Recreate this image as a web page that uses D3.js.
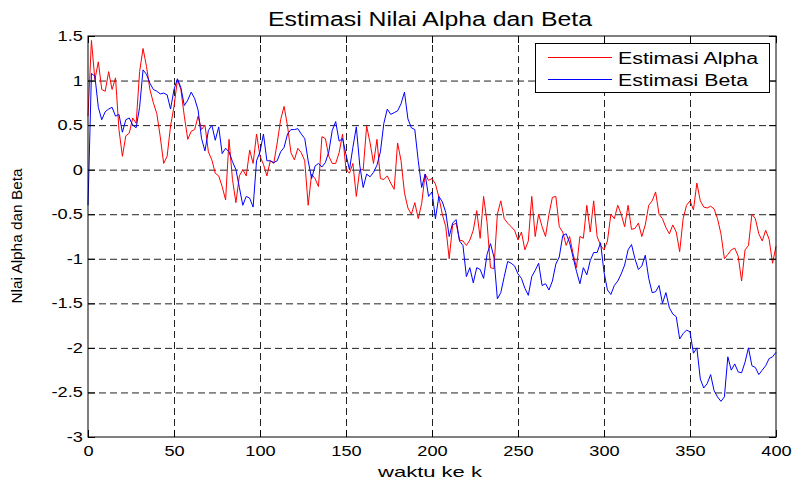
<!DOCTYPE html>
<html>
<head>
<meta charset="utf-8">
<script src="https://cdn.jsdelivr.net/npm/d3@7"></script>
<style>
body { margin: 0; background: #fff; }
text { font-family: "Liberation Sans", Arial, Helvetica, sans-serif; }
</style>
</head>
<body>
<div id="chart"></div>
<script>
// estimasi alpha & beta, one value every 2 steps of k (0..400)
var alpha = [
    0.6, 1.45, 1.01, 1.21, 0.9, 0.88, 1.1, 0.9, 1.03, 0.45,
    0.15, 0.38, 0.41, 0.58, 0.52, 1.1, 1.36, 1.16, 0.9, 0.75,
    0.63, 0.37, 0.07, 0.15, 0.49, 0.71, 1.01, 0.9, 0.6, 0.34,
    0.43, 0.45, 0.6, 0.45, 0.5, 0.2, 0.11, -0.04, -0.07, -0.19,
    -0.34, 0.34, -0.11, -0.37, -0.07, 0, -0.07, 0.22, 0.07, 0.4,
    0.15, 0.06, -0.07, 0.1, 0.07, 0.3, 0.56, 0.71, 0.49, 0.19,
    0.11, 0.24, 0.19, 0.1, -0.4, -0.05, -0.1, -0.19, 0.37, 0.35,
    0.15, 0.07, 0.07, 0.19, 0.4, 0.0, -0.04, 0.07, -0.3, 0.0,
    0.0, 0.49, 0.3, 0.07, 0.34, -0.1, -0.11, -0.07, -0.15, -0.22,
    0.3, 0.1, -0.26, -0.43, -0.5, -0.37, -0.55, -0.38, -0.05, -0.12,
    -0.1, -0.16, -0.31, -0.5, -0.64, -1.0, -0.62, -0.6, -0.79, -0.8,
    -0.85, -0.79, -0.68, -0.46, -0.77, -0.3, -0.59, -1.1, -1.11, -0.5,
    -0.35, -0.55, -0.6, -0.64, -0.68, -0.79, -0.7, -0.9, -0.8, -0.3,
    -0.75, -0.5, -0.64, -0.75, -0.5, -0.31, -0.3, -0.64, -0.7, -0.85,
    -0.75, -0.94, -1.1, -0.75, -0.77, -0.4, -0.7, -0.35, -0.75, -0.85,
    -0.9, -0.8, -0.5, -0.55, -0.4, -0.5, -0.64, -0.4, -0.67, -0.66,
    -0.6, -0.75, -0.62, -0.4, -0.35, -0.25, -0.5, -0.55, -0.65, -0.72,
    -0.62, -0.7, -0.92, -0.55, -0.4, -0.35, -0.45, -0.15, -0.35, -0.42,
    -0.43, -0.41, -0.44, -0.55, -0.72, -1.0, -0.95, -0.9, -0.88, -0.97,
    -1.25, -0.9, -0.85, -0.5, -0.55, -0.72, -0.8, -0.68, -0.78, -1.05,
    -0.86];

var beta = [
    -0.4, 1.08, 1.05, 0.7, 0.56, 0.65, 0.68, 0.7, 0.6, 0.62,
    0.42, 0.56, 0.58, 0.5, 0.47, 0.7, 1.12, 1.07, 0.97, 0.9,
    0.88, 0.85, 0.86, 0.84, 0.68, 0.9, 1.02, 0.92, 0.72, 0.78,
    0.87, 0.8, 0.67, 0.35, 0.21, 0.44, 0.5, 0.33, 0.48, 0.18,
    0.24, 0.2, 0.09, 0, -0.2, -0.4, -0.3, -0.32, -0.42, 0.1,
    0.2, 0.4, 0.1, 0.1, 0.08, 0.1, 0.2, 0.25, 0.4, 0.45,
    0.45, 0.46, 0.4, 0.35, 0.1, -0.1, 0.04, 0.07, 0.03, 0.08,
    0.2, 0.44, 0.54, 0.32, 0.35, 0.17, 0.0, 0.25, 0.48, 0.05,
    -0.2, -0.05, -0.08, -0.03, 0.05, 0.2, 0.52, 0.68, 0.62, 0.64,
    0.66, 0.74, 0.87, 0.57, 0.47, 0.45, 0.1, -0.2, -0.05, -0.3,
    -0.25, -0.55, -0.3, -0.36, -0.48, -0.75, -0.6, -0.56, -0.8, -0.85,
    -1.2, -1.1, -1.27, -1.1, -1.12, -1.22, -0.95, -0.83, -0.98, -1.45,
    -1.38, -1.2, -1.03, -1.05, -1.08, -1.17, -1.22, -1.33, -1.41, -1.2,
    -1.13, -1.05, -1.3, -1.28, -1.35, -1.25, -1.06, -0.98, -0.74, -0.72,
    -0.82, -0.98, -1.14, -1.28, -1.1, -1.18, -1.02, -0.93, -0.93, -0.82,
    -1.15, -1.35, -1.4, -1.3, -1.25, -1.17, -1.07, -0.9, -0.84, -1.0,
    -1.12, -1.08, -0.96, -1.22, -1.38, -1.37, -1.3, -1.5, -1.38, -1.55,
    -1.62, -1.65, -1.9, -1.84, -1.8, -1.82, -2.06, -2.0, -2.35, -2.45,
    -2.4, -2.3, -2.48, -2.55, -2.6, -2.55, -2.1, -2.25, -2.18, -2.27,
    -2.28, -2.16, -2.0, -2.2, -2.22, -2.3, -2.25, -2.2, -2.12, -2.1,
    -2.05];

var kStep = 2;
var xTicks = [0, 50, 100, 150, 200, 250, 300, 350, 400];
var yTicks = [1.5, 1, 0.5, 0, -0.5, -1, -1.5, -2, -2.5, -3];
var seriesNames = ["Estimasi Alpha", "Estimasi Beta"];
var seriesColors = ["#ff0000", "#0000ff"];

var svg = d3.select("#chart")
    .append("svg")
    .attr("width", 795)
    .attr("height", 481);

var pLeft = 88, pRight = 776, pTop = 36, pBottom = 437;

var x = d3.scaleLinear().domain([0, 400]).range([pLeft, pRight]);
var y = d3.scaleLinear().domain([-3, 1.5]).range([pBottom, pTop]);

// dashed grid
svg.append("g")
    .attr("class", "grid")
    .attr("transform", "translate(0," + pBottom + ")")
    .call(d3.axisBottom(x).tickValues(xTicks.slice(1, -1)).tickSize(-(pBottom - pTop)).tickFormat(""));
svg.append("g")
    .attr("class", "grid")
    .attr("transform", "translate(" + pLeft + ",0)")
    .call(d3.axisLeft(y).tickValues(yTicks.slice(1, -1)).tickSize(-(pRight - pLeft)).tickFormat(""));
svg.selectAll(".grid .domain").remove();
svg.selectAll(".grid line")
    .attr("stroke", "#222")
    .attr("stroke-dasharray", "7,4");

// series
var line = d3.line()
    .x(function (d, i) { return x(i * kStep); })
    .y(function (d) { return y(d); });

[alpha, beta].forEach(function (s, j) {
    svg.append("path")
        .datum(s)
        .attr("fill", "none")
        .attr("stroke", seriesColors[j])
        .attr("stroke-width", 1)
        .attr("d", line);
});

// axes, ticks pointing inward on all sides
var xAxis = svg.append("g")
    .attr("transform", "translate(0," + pBottom + ")")
    .call(d3.axisBottom(x).tickValues(xTicks).tickSizeInner(-7).tickSizeOuter(0).tickPadding(9));
var yAxis = svg.append("g")
    .attr("transform", "translate(" + pLeft + ",0)")
    .call(d3.axisLeft(y).tickValues(yTicks).tickSizeInner(-7).tickSizeOuter(0).tickPadding(4)
        .tickFormat(function (d) { return String(d); }));
svg.append("g")
    .attr("transform", "translate(0," + pTop + ")")
    .call(d3.axisTop(x).tickValues(xTicks).tickSizeInner(-7).tickSizeOuter(0).tickFormat(""));
svg.append("g")
    .attr("transform", "translate(" + pRight + ",0)")
    .call(d3.axisRight(y).tickValues(yTicks).tickSizeInner(-7).tickSizeOuter(0).tickFormat(""));

svg.selectAll(".domain").remove();
svg.selectAll(".tick line").filter(function () { return !this.closest(".grid"); })
    .attr("stroke", "#000");

[xAxis, yAxis].forEach(function (a) {
    a.selectAll("text")
        .attr("font-size", "14px")
        .attr("fill", "#000")
        .attr("transform", "scale(1.3,1)");
});

svg.append("rect")
    .attr("x", pLeft)
    .attr("y", pTop)
    .attr("width", pRight - pLeft)
    .attr("height", pBottom - pTop)
    .attr("fill", "none")
    .attr("stroke", "#000")
    .attr("stroke-width", 1);

// labels
svg.append("text")
    .attr("x", 430)
    .attr("y", 26)
    .attr("text-anchor", "middle")
    .attr("font-size", "20px")
    .attr("textLength", 324)
    .attr("lengthAdjust", "spacingAndGlyphs")
    .text("Estimasi Nilai Alpha dan Beta");

svg.append("text")
    .attr("x", 430)
    .attr("y", 477)
    .attr("text-anchor", "middle")
    .attr("font-size", "15px")
    .attr("textLength", 104)
    .attr("lengthAdjust", "spacingAndGlyphs")
    .text("waktu ke k");

svg.append("text")
    .attr("transform", "translate(22,236) rotate(-90)")
    .attr("text-anchor", "middle")
    .attr("font-size", "14px")
    .attr("textLength", 135)
    .attr("lengthAdjust", "spacingAndGlyphs")
    .text("Nlai Alpha dan Beta");

// legend
var legend = svg.append("g");
legend.append("rect")
    .attr("x", 535.5)
    .attr("y", 43.5)
    .attr("width", 234)
    .attr("height", 49)
    .attr("fill", "#fff")
    .attr("stroke", "#000");

var legendItem = legend.selectAll(".legendItem")
    .data(seriesNames)
    .enter()
    .append("g")
    .attr("class", "legendItem")
    .attr("transform", function (d, i) { return "translate(0," + (57.5 + i * 22) + ")"; });

legendItem.append("line")
    .attr("x1", 548)
    .attr("x2", 612)
    .attr("stroke", function (d, i) { return seriesColors[i]; });

legendItem.append("text")
    .attr("x", 618)
    .attr("y", 6.5)
    .attr("font-size", "16px")
    .attr("textLength", function (d, i) { return i == 0 ? 140 : 130; })
    .attr("lengthAdjust", "spacingAndGlyphs")
    .text(function (d) { return d; });
</script>
</body>
</html>
